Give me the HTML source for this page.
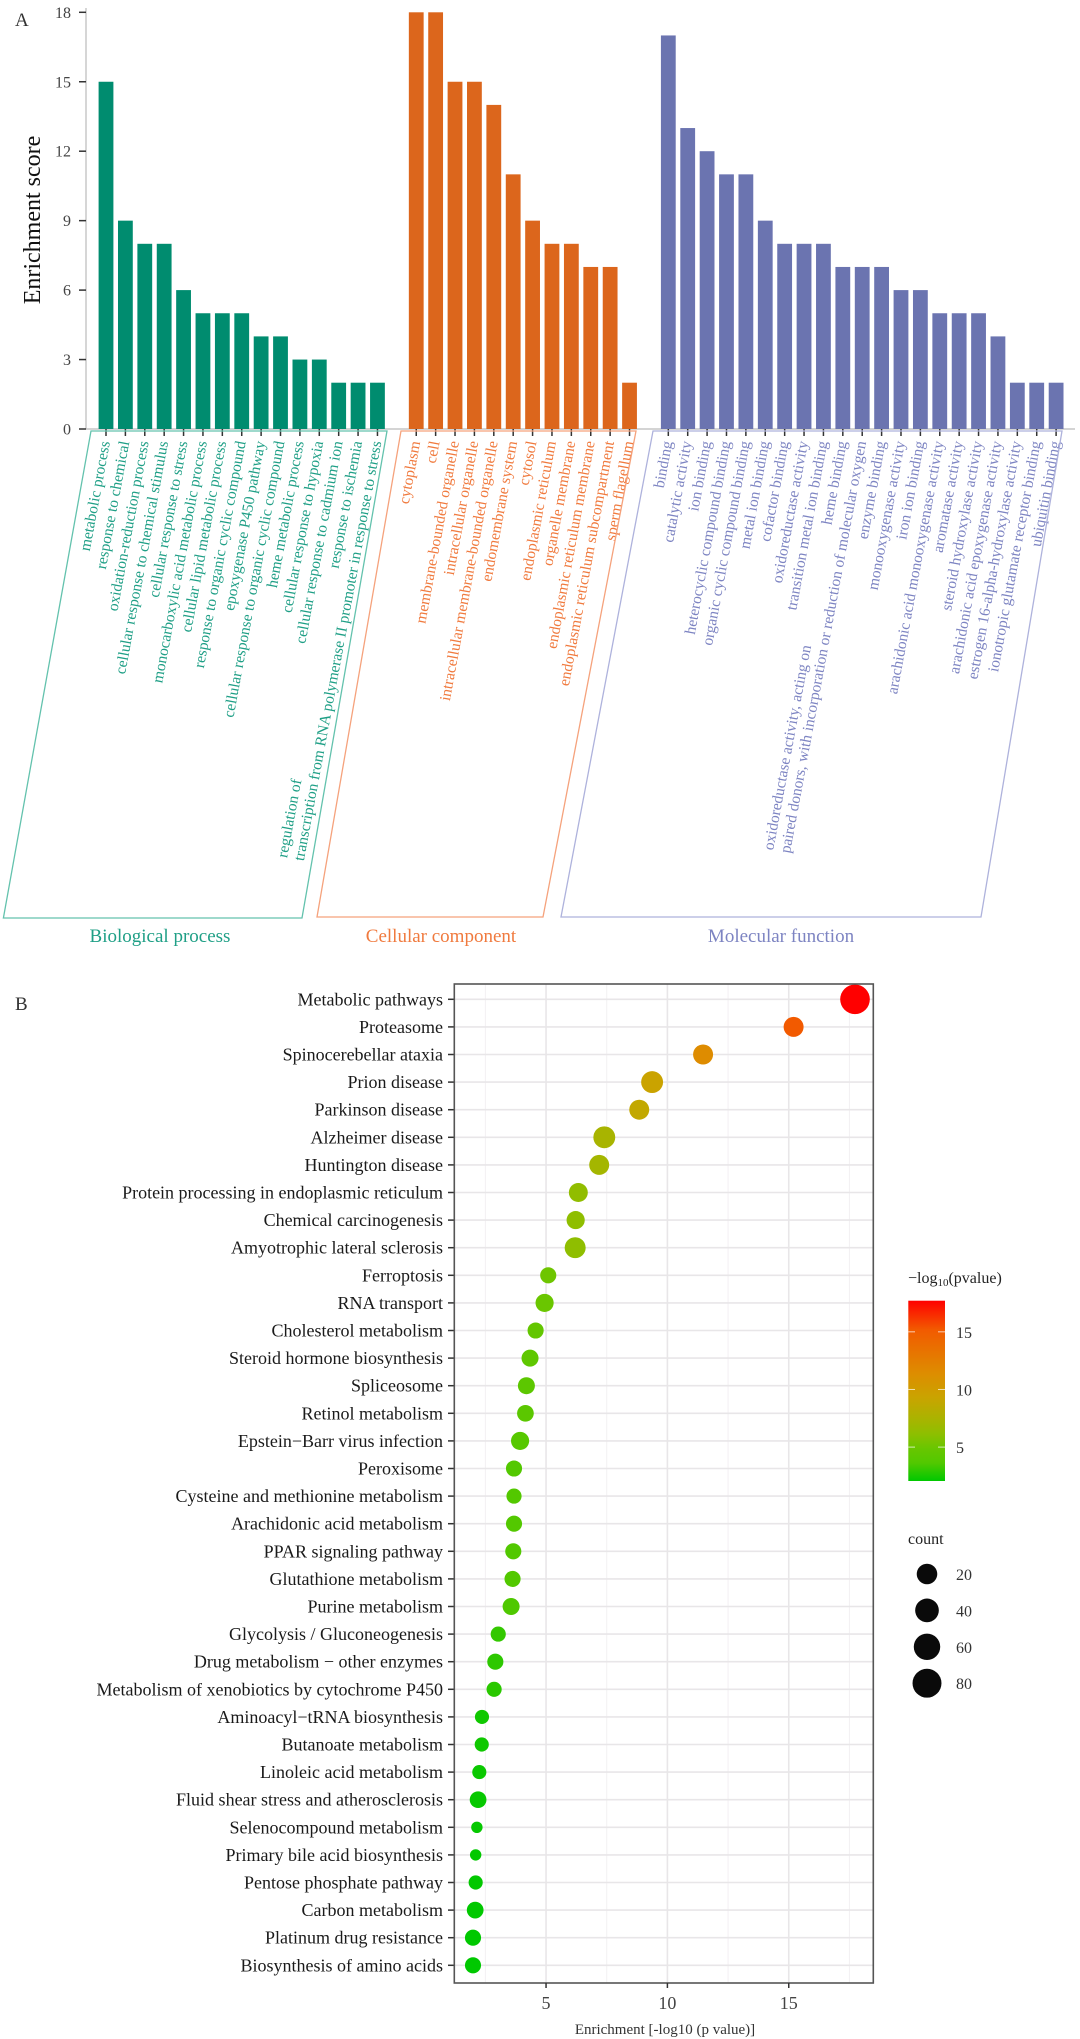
<!DOCTYPE html>
<html><head><meta charset="utf-8"><style>
html,body{margin:0;padding:0;background:#fff;}
svg{display:block;font-family:"Liberation Serif",serif;}
</style></head><body>
<svg id="fig" width="1080" height="2039" viewBox="0 0 1080 2039" xmlns="http://www.w3.org/2000/svg">
<g id="panelA"></g>
<g id="panelB"></g>
</svg>
<script>
// ---------- Panel A data ----------
const bpTerms = ["metabolic process","response to chemical","oxidation-reduction process","cellular response to chemical stimulus","cellular response to stress","monocarboxylic acid metabolic process","cellular lipid metabolic process","response to organic cyclic compound","epoxygenase P450 pathway","cellular response to organic cyclic compound","heme metabolic process","cellular response to hypoxia","cellular response to cadmium ion","response to ischemia","regulation of\ntranscription from RNA polymerase II promoter in response to stress"];
const bpScores = [15,9,8,8,6,5,5,5,4,4,3,3,2,2,2];
const ccTerms = ["cytoplasm","cell","membrane-bounded organelle","intracellular organelle","intracellular membrane-bounded organelle","endomembrane system","cytosol","endoplasmic reticulum","organelle membrane","endoplasmic reticulum membrane","endoplasmic reticulum subcompartment","sperm flagellum"];
const ccScores = [18,18,15,15,14,11,9,8,8,7,7,2];
const mfTerms = ["binding","catalytic activity","ion binding","heterocyclic compound binding","organic cyclic compound binding","metal ion binding","cofactor binding","oxidoreductase activity","transition metal ion binding","heme binding","oxidoreductase activity, acting on\npaired donors, with incorporation or reduction of molecular oxygen","enzyme binding","monooxygenase activity","iron ion binding","arachidonic acid monooxygenase activity","aromatase activity","steroid hydroxylase activity","arachidonic acid epoxygenase activity","estrogen 16-alpha-hydroxylase activity","ionotropic glutamate receptor binding","ubiquitin binding"];
const mfScores = [17,13,12,11,11,9,8,8,8,7,7,7,6,6,5,5,5,4,2,2,2];
const yTicksA = [0,3,6,9,12,15,18];

// ---------- Panel B data ----------
const pathways = ["Metabolic pathways","Proteasome","Spinocerebellar ataxia","Prion disease","Parkinson disease","Alzheimer disease","Huntington disease","Protein processing in endoplasmic reticulum","Chemical carcinogenesis","Amyotrophic lateral sclerosis","Ferroptosis","RNA transport","Cholesterol metabolism","Steroid hormone biosynthesis","Spliceosome","Retinol metabolism","Epstein\u2212Barr virus infection","Peroxisome","Cysteine and methionine metabolism","Arachidonic acid metabolism","PPAR signaling pathway","Glutathione metabolism","Purine metabolism","Glycolysis / Gluconeogenesis","Drug metabolism \u2212 other enzymes","Metabolism of xenobiotics by cytochrome P450","Aminoacyl\u2212tRNA biosynthesis","Butanoate metabolism","Linoleic acid metabolism","Fluid shear stress and atherosclerosis","Selenocompound metabolism","Primary bile acid biosynthesis","Pentose phosphate pathway","Carbon metabolism","Platinum drug resistance","Biosynthesis of amino acids"];
const enrichment = [17.73,15.2,11.47,9.37,8.84,7.4,7.19,6.33,6.22,6.2,5.09,4.94,4.57,4.34,4.19,4.15,3.93,3.68,3.68,3.68,3.65,3.62,3.56,3.03,2.91,2.86,2.36,2.35,2.25,2.2,2.15,2.1,2.1,2.08,1.99,1.99];
const counts = [88,40,40,48,40,48,40,36,33,44,26,33,26,29,29,28,33,26,23,26,26,26,29,23,26,23,20,20,20,28,13,13,20,28,26,26];
const xTicksB = [5,10,15];
const colorTicks = [5,10,15];
const sizeBreaks = [20,40,60,80];

const NS = "http://www.w3.org/2000/svg";
function mk(tag, attrs, parent){const e=document.createElementNS(NS,tag);for(const k in attrs)e.setAttribute(k,attrs[k]);parent.appendChild(e);return e;}

// ---------- Panel A ----------
const A = document.getElementById('panelA');
const yA = v => 429 - v*(429-12.3)/18;
const slotX = i => 106 + i*19.39;
const barW = 14.8;
const groups = [
 {terms:bpTerms, scores:bpScores, start:0, bar:"#008c6f", txt:"#1f9f86", box:"#63c2ad", name:"biological-process",
  box4:[[91,431],[387,431],[302,918],[3.4,918]], title:"Biological process", tx:160},
 {terms:ccTerms, scores:ccScores, start:16, bar:"#dc661c", txt:"#f07a3e", box:"#f5a27c", name:"cellular-component",
  box4:[[401,431],[636,431],[543,917],[317,917]], title:"Cellular component", tx:441},
 {terms:mfTerms, scores:mfScores, start:29, bar:"#6b74b0", txt:"#7d84c2", box:"#aeb2dc", name:"molecular-function",
  box4:[[653,431],[1062,431],[981,917],[561,917]], title:"Molecular function", tx:781}
];
let t;
t = mk('text',{x:15,y:26,'font-size':19,fill:'#333'},A); t.textContent='A';
 
let ax = mk('line',{x1:86,y1:8,x2:86,y2:429,stroke:'#bbb','stroke-width':1.2},A);
 
let bx = mk('line',{x1:86,y1:429,x2:1075,y2:429,stroke:'#bbb','stroke-width':1.2},A);
 
yTicksA.forEach(v=>{
  const y=yA(v);
  const l=mk('line',{x1:79,y1:y,x2:86,y2:y,stroke:'#333','stroke-width':1.5},A);
   
  const tx=mk('text',{x:71,y:y+5.5,'font-size':16,'text-anchor':'end',fill:'#444'},A);
  tx.textContent=v;
   
});
t = mk('text',{x:0,y:0,'font-size':24,'text-anchor':'middle',fill:'#111',transform:'translate(40,220) rotate(-90)'},A);
t.textContent='Enrichment score';
 

groups.forEach(g=>{
  g.scores.forEach((v,i)=>{
    const x=slotX(g.start+i);
    const r=mk('rect',{x:x-barW/2,y:yA(v),width:barW,height:yA(0)-yA(v),fill:g.bar},A);
     
    const tk=mk('line',{x1:x,y1:429,x2:x,y2:436,stroke:'#333','stroke-width':1.5},A);
     
    const lines=g.terms[i].split('\n');
    const gg=mk('g',{transform:`translate(${x+4},442) rotate(-79.5)`},A);
     
    if(lines.length===1){
      const tt=mk('text',{x:0,y:0,'font-size':15.5,'text-anchor':'end',fill:g.txt},gg);
      tt.textContent=lines[0];
    } else {
      const t2=mk('text',{x:0,y:0,'font-size':15.5,'text-anchor':'end',fill:g.txt},gg);
      t2.textContent=lines[1];
      const L=t2.getComputedTextLength();
      const t1=mk('text',{x:-L,y:-17,'font-size':15.5,'text-anchor':'start',fill:g.txt},gg);
      t1.textContent=lines[0];
    }
  });
  const p=mk('polygon',{points:g.box4.map(q=>q.join(',')).join(' '),fill:'none',stroke:g.box,'stroke-width':1.3},A);
   
  const tt=mk('text',{x:g.tx,y:942,'font-size':19,'text-anchor':'middle',fill:g.txt},A);
  tt.textContent=g.title;
   
});

// ---------- Panel B ----------
const B = document.getElementById('panelB');
const L0=454.3, R0=873.3, T0=984, B0=1983;
const xB = v => 424.7 + v*24.27;
const yB = i => 999.3 + i*27.6;
const rB = c => 1.58*Math.sqrt(c);
const rLegend = c => Math.sqrt(71 + 1.73*c);
const stops=[[0,[0,200,0]],[0.1,[82,200,0]],[0.18,[104,198,0]],[0.26,[141,191,0]],[0.34,[168,180,0]],[0.46,[201,164,0]],[0.6,[222,140,0]],[0.84,[242,90,0]],[1,[255,0,0]]];
const cMin=2.06, cMax=17.7;
function colorOf(v){
  let tt=Math.max(0,Math.min(1,(v-cMin)/(cMax-cMin)));
  for(let k=1;k<stops.length;k++){ if(tt<=stops[k][0]){const a=stops[k-1],b=stops[k];const f=(tt-a[0])/(b[0]-a[0]);
    return 'rgb('+a[1].map((c,j)=>Math.round(c+(b[1][j]-c)*f)).join(',')+')';}}
  return 'rgb(255,0,0)';
}
t = mk('text',{x:15,y:1010,'font-size':19,fill:'#333'},B); t.textContent='B';
 
[2.5,7.5,12.5,17.5].forEach(v=>{const l=mk('line',{x1:xB(v),y1:T0,x2:xB(v),y2:B0,stroke:'#f2f0f2','stroke-width':1},B);
   });
xTicksB.forEach(v=>{const l=mk('line',{x1:xB(v),y1:T0,x2:xB(v),y2:B0,stroke:'#e8e6e8','stroke-width':1.6},B);
   });
pathways.forEach((p,i)=>{const l=mk('line',{x1:L0,y1:yB(i),x2:R0,y2:yB(i),stroke:'#e8e6e8','stroke-width':1.6},B);
   });
pathways.forEach((p,i)=>{
  const y=yB(i);
  const tk=mk('line',{x1:448,y1:y,x2:L0,y2:y,stroke:'#333','stroke-width':1.5},B);
   
  const tx=mk('text',{x:443,y:y+6,'font-size':18,'text-anchor':'end',fill:'#1a1a1a'},B);
  tx.textContent=p;
   
});
pathways.forEach((p,i)=>{
  const c=mk('circle',{cx:xB(enrichment[i]),cy:yB(i),r:rB(counts[i]),fill:colorOf(enrichment[i])},B);
   
});
let fr = mk('rect',{x:L0,y:T0,width:R0-L0,height:B0-T0,fill:'none',stroke:'#555','stroke-width':1.6},B);
 
xTicksB.forEach(v=>{
  const l=mk('line',{x1:xB(v),y1:B0,x2:xB(v),y2:B0+5,stroke:'#333','stroke-width':1.5},B);
   
  const tx=mk('text',{x:xB(v),y:2009,'font-size':18,'text-anchor':'middle',fill:'#444'},B);
  tx.textContent=v;
   
});
t = mk('text',{x:665,y:2034,'font-size':15,'text-anchor':'middle',fill:'#333'},B);
t.textContent='Enrichment [-log10 (p value)]';
 

// color legend
t = mk('text',{x:908,y:1283,'font-size':16,fill:'#222'},B);
 
t.innerHTML='\u2212log<tspan font-size="11" dy="3">10</tspan><tspan dy="-3">(pvalue)</tspan>';
const defs=mk('defs',{},B);
const lg=mk('linearGradient',{id:'cg',x1:0,y1:1,x2:0,y2:0},defs);
stops.forEach(s=>mk('stop',{offset:s[0],'stop-color':'rgb('+s[1].join(',')+')'},lg));
const cbTop=1300.7, cbBot=1481;
let cb = mk('rect',{x:908.3,y:cbTop,width:36.7,height:cbBot-cbTop,fill:'url(#cg)'},B);
 
const cbY = v => cbBot - (v-cMin)/(cMax-cMin)*(cbBot-cbTop);
colorTicks.forEach(v=>{
  const y=cbY(v);
  const a=mk('line',{x1:908.3,y1:y,x2:915,y2:y,stroke:'#fff','stroke-width':1,opacity:0.7},B);
   
  const b=mk('line',{x1:938,y1:y,x2:945,y2:y,stroke:'#fff','stroke-width':1,opacity:0.7},B);
   
  const tx=mk('text',{x:956,y:y+6,'font-size':16,fill:'#333'},B);
  tx.textContent=v;
   
});
// size legend
t = mk('text',{x:908,y:1544,'font-size':16,fill:'#222'},B);
t.textContent='count';
 
sizeBreaks.forEach((v,k)=>{
  const y=1574+k*36.4;
  const c=mk('circle',{cx:927,cy:y,r:rLegend(v),fill:'#0a0a0a'},B);
   
  const tx=mk('text',{x:956,y:y+6,'font-size':16,fill:'#333'},B);
  tx.textContent=v;
   
});
</script>
</body></html>
